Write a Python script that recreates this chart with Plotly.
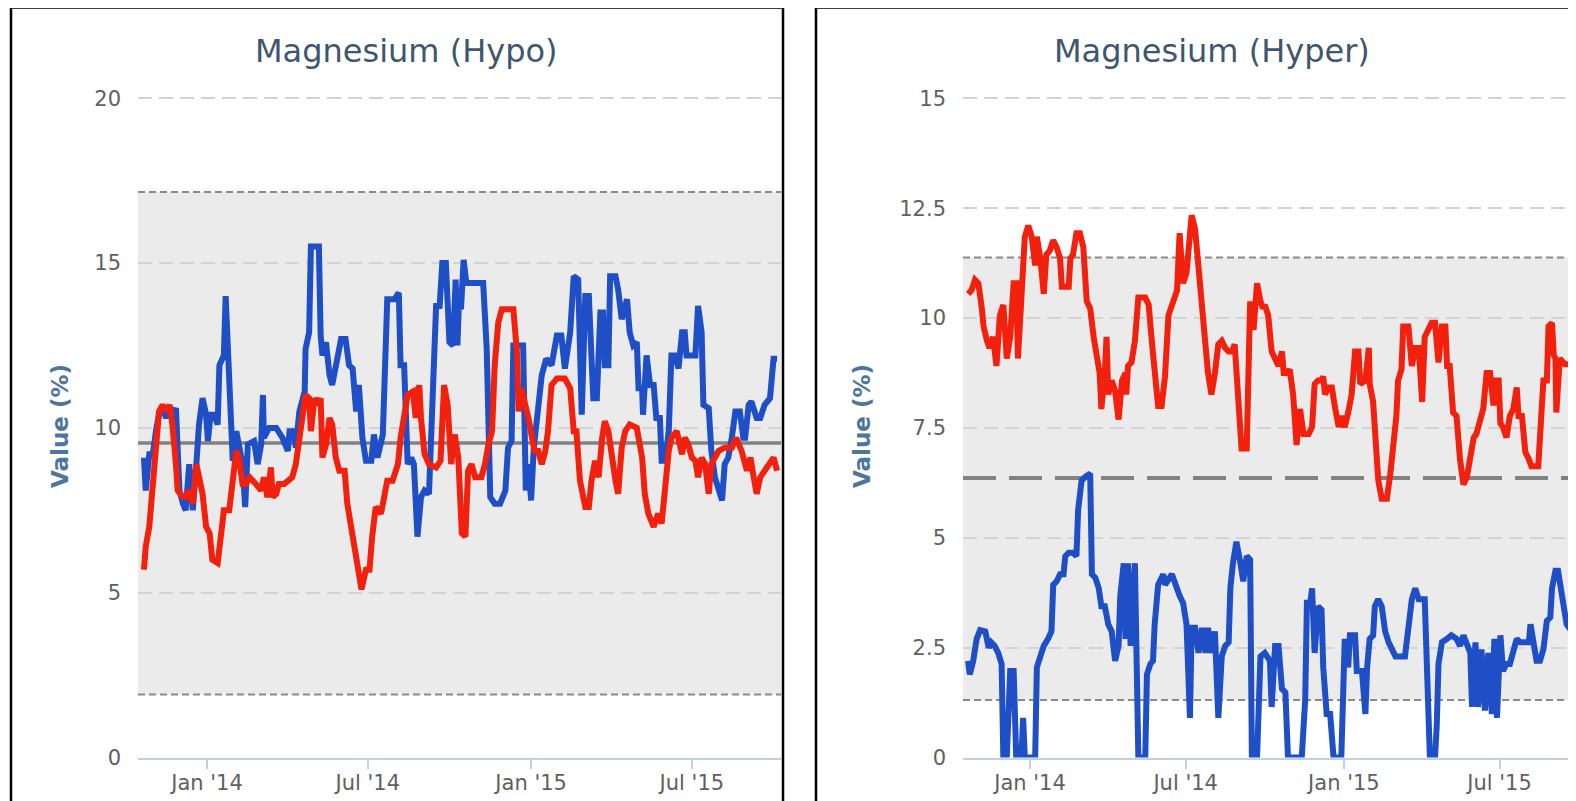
import pandas as pd
import plotly.graph_objects as go

# ---------------- data (day offsets from 2014-01-01, value %) ----------------
BASE = "2014-01-01"

hypo_blue = [(-71,9.1),(-69,8.1),(-65,9.2),(-61,9.2),(-57,10.0),(-54,10.4),(-50,10.6),(-46,10.3),(-42,10.6),(-39,10.4),(-35,10.6),(-31,8.1),(-27,7.7),(-24,7.5),(-20,8.9),(-16,7.5),(-12,8.9),(-9,10.1),(-5,10.9),(-1,10.4),(1,9.6),(4,10.4),(8,10.4),(12,10.1),(14,11.9),(19,12.2),(21,14.0),(23,12.5),(27,10.4),(29,9.0),(33,9.9),(36,9.5),(40,8.9),(43,7.6),(46,9.5),(53,9.6),(57,8.9),(61,9.5),(63,11.0),(64,9.7),(70,10.0),(78,10.0),(85,9.7),(91,9.3),(93,9.9),(98,9.9),(100,9.4),(104,10.5),(110,11.1),(111,12.4),(115,12.9),(117,15.5),(126,15.5),(128,12.8),(130,12.2),(134,12.6),(138,11.6),(141,11.3),(145,11.8),(151,12.7),(156,12.7),(160,11.9),(164,11.8),(168,10.5),(171,11.3),(175,9.7),(179,9.0),(185,9.0),(188,9.8),(192,9.1),(198,9.8),(201,11.8),(203,13.9),(211,13.9),(216,14.1),(218,11.9),(222,11.9),(226,8.9),(230,9.1),(233,8.9),(237,6.7),(241,7.9),(245,8.1),(250,8.0),(254,10.5),(258,13.7),(262,13.7),(265,15.0),(269,15.0),(273,12.6),(277,12.5),(280,14.5),(282,12.5),(284,14.0),(286,13.6),(289,15.1),(292,14.4),(311,14.4),(315,12.4),(317,9.9),(319,7.9),(324,7.7),(330,7.7),(336,8.1),(339,9.4),(343,9.6),(345,12.5),(356,12.5),(359,8.1),(362,8.9),(365,7.8),(368,9.4),(371,10.1),(377,11.6),(382,12.1),(388,11.9),(394,12.8),(399,12.8),(403,11.8),(409,12.9),(413,14.6),(418,14.5),(422,10.4),(426,14.0),(430,14.0),(431,13.2),(435,10.9),(439,10.9),(443,13.5),(446,13.5),(448,11.9),(452,11.9),(454,14.6),(460,14.6),(463,14.2),(467,13.3),(473,13.9),(476,12.9),(480,12.5),(484,12.6),(486,11.2),(490,11.2),(491,10.4),(495,12.2),(499,11.3),(503,11.3),(506,10.3),(510,10.3),(512,9.0),(516,9.0),(520,9.9),(523,12.2),(527,12.2),(531,11.8),(535,12.9),(538,12.9),(540,12.2),(550,12.2),(553,13.7),(557,12.9),(559,10.7),(565,10.6),(568,9.3),(572,8.5),(576,8.1),(580,7.8),(583,8.9),(587,9.1),(591,9.7),(595,10.5),(600,10.5),(604,9.7),(606,9.7),(610,10.7),(613,10.8),(619,10.3),(623,10.3),(628,10.7),(634,10.9),(638,12.1),(642,12.1)]

hypo_red = [(-71,5.7),(-69,6.4),(-65,7.0),(-61,8.2),(-57,9.7),(-54,10.5),(-50,10.7),(-46,10.5),(-42,10.7),(-39,10.1),(-35,8.9),(-33,8.1),(-27,7.9),(-24,7.9),(-20,8.1),(-16,7.7),(-12,8.9),(-9,8.5),(-5,8.0),(-1,7.0),(3,6.8),(6,6.0),(12,5.9),(16,6.8),(19,7.5),(25,7.5),(29,8.6),(33,9.3),(36,9.1),(40,8.3),(44,8.3),(48,8.5),(55,8.3),(61,8.1),(64,8.5),(68,7.9),(72,8.8),(74,7.9),(78,8.0),(81,8.3),(87,8.3),(91,8.4),(96,8.5),(100,8.9),(104,9.7),(108,10.5),(111,11.0),(115,10.9),(117,9.9),(121,10.9),(125,10.7),(128,10.9),(130,9.1),(134,9.5),(138,10.3),(141,10.1),(145,9.1),(149,8.7),(155,8.7),(158,7.7),(162,7.0),(168,6.0),(171,5.6),(174,5.1),(179,5.7),(183,5.7),(186,6.7),(190,7.6),(196,7.4),(200,8.1),(203,8.4),(209,8.4),(215,8.9),(218,9.7),(222,10.3),(226,11.0),(232,11.1),(235,10.3),(239,11.3),(241,10.3),(245,9.2),(250,8.9),(258,8.8),(263,9.0),(267,11.3),(271,10.7),(275,8.9),(279,9.8),(283,9.1),(287,6.8),(291,6.7),(294,8.7),(298,8.9),(302,8.5),(309,8.5),(313,8.9),(317,9.5),(321,9.9),(324,11.9),(328,13.2),(332,13.6),(345,13.6),(349,12.3),(351,10.5),(354,11.2),(358,10.8),(362,10.3),(366,9.7),(369,9.3),(373,9.3),(377,8.9),(381,9.3),(384,9.9),(388,11.3),(394,11.5),(403,11.5),(409,11.2),(413,9.9),(416,9.9),(420,8.4),(426,7.6),(430,7.6),(433,8.4),(437,9.0),(441,8.5),(445,9.7),(448,10.2),(452,9.9),(456,9.0),(460,8.4),(463,8.0),(467,9.4),(471,9.9),(476,10.1),(484,10.0),(490,9.1),(493,8.0),(497,7.4),(503,7.0),(508,7.4),(512,7.1),(516,8.3),(520,9.3),(523,9.7),(529,9.9),(535,9.2),(538,9.7),(542,9.5),(546,9.1),(550,9.0),(553,8.5),(557,9.1),(561,8.9),(565,8.0),(568,8.9),(572,9.1),(576,9.3),(583,9.4),(591,9.4),(596,9.7),(602,9.3),(608,8.7),(612,9.1),(615,8.6),(619,8.0),(623,8.5),(628,8.7),(634,8.9),(638,9.1),(642,8.7)]

hyper_red = [(-72,10.55),(-68,10.63),(-64,10.87),(-60,10.79),(-56,10.22),(-54,9.81),(-50,9.48),(-47,9.32),(-43,9.57),(-39,8.91),(-35,10.06),(-31,10.3),(-27,9.08),(-23,9.57),(-19,10.79),(-16,10.79),(-14,9.08),(-10,10.22),(-8,10.87),(-6,11.85),(-2,12.1),(2,11.85),(6,11.2),(8,11.85),(12,11.36),(16,10.55),(19,11.44),(23,11.53),(27,11.77),(31,11.61),(35,11.36),(37,10.71),(45,10.71),(47,11.36),(50,11.44),(54,11.93),(58,11.93),(62,11.61),(66,10.38),(70,10.22),(74,9.57),(78,8.99),(81,8.75),(83,7.93),(87,8.75),(89,9.57),(91,8.26),(95,8.58),(99,8.34),(103,7.69),(107,8.58),(111,8.75),(112,8.26),(114,8.91),(118,8.99),(122,9.48),(126,10.47),(134,10.47),(138,10.3),(142,9.4),(145,8.91),(149,8.0),(153,8.0),(157,8.67),(161,10.06),(167,10.47),(171,10.63),(174,11.93),(178,10.79),(182,11.03),(186,12.02),(188,12.34),(192,12.02),(196,11.03),(200,9.97),(204,9.4),(207,8.75),(211,8.26),(215,8.75),(219,9.4),(223,9.48),(227,9.32),(231,9.24),(235,9.24),(238,9.4),(242,8.26),(246,7.03),(252,7.03),(256,10.38),(260,9.73),(264,10.79),(268,10.38),(271,10.22),(273,10.3),(277,10.06),(281,9.24),(285,9.08),(289,8.91),(293,9.24),(295,8.75),(299,8.75),(302,8.83),(306,8.26),(308,7.85),(310,7.11),(312,7.6),(314,7.93),(318,7.36),(324,7.36),(328,7.52),(331,8.5),(335,8.58),(339,8.58),(341,8.67),(343,8.26),(347,8.42),(351,8.42),(355,7.93),(359,7.52),(362,7.77),(366,7.52),(370,7.85),(374,8.26),(378,9.24),(382,9.24),(384,8.5),(390,8.58),(394,9.32),(395,8.5),(399,8.09),(401,7.36),(405,6.3),(409,5.89),(415,5.89),(419,6.46),(423,7.2),(426,7.77),(428,8.58),(432,8.83),(434,9.81),(440,9.81),(444,8.91),(448,9.32),(452,9.32),(456,8.09),(459,9.57),(463,9.73),(467,9.89),(471,9.89),(475,8.99),(479,9.81),(483,9.81),(485,8.91),(488,8.91),(492,7.85),(496,7.77),(500,6.79),(504,6.21),(508,6.38),(512,6.95),(516,7.28),(519,7.36),(523,7.6),(527,7.93),(531,8.75),(535,8.75),(539,8.01),(541,8.58),(545,8.58),(547,7.6),(550,7.52),(554,7.28),(558,7.77),(562,7.93),(566,8.42),(568,7.77),(572,7.77),(576,6.95),(580,6.79),(583,6.63),(591,6.63),(593,7.2),(597,8.58),(601,8.58),(603,9.81),(607,9.89),(609,9.16),(611,9.08),(612,7.85),(616,9.08),(622,8.95),(635,8.95)]

hyper_blue = [(-72,2.2),(-70,1.89),(-66,2.2),(-62,2.7),(-58,2.9),(-52,2.87),(-48,2.5),(-45,2.62),(-41,2.54),(-37,2.38),(-33,2.13),(-31,0),(-27,0),(-23,1.97),(-19,1.97),(-16,0),(-10,0),(-8,0.9),(-6,0),(6,0),(8,2.05),(12,2.3),(16,2.54),(21,2.7),(25,2.87),(27,3.93),(31,4.01),(35,4.17),(39,4.17),(41,4.58),(45,4.66),(50,4.66),(54,4.58),(56,5.64),(60,6.3),(64,6.38),(70,6.46),(72,4.17),(76,4.09),(80,3.85),(83,3.44),(87,3.44),(91,3.03),(95,2.87),(99,2.2),(103,2.54),(105,3.68),(109,4.42),(111,2.7),(114,4.42),(117,2.54),(122,4.42),(124,2.46),(126,0),(134,0),(136,1.89),(140,2.13),(143,2.2),(145,3.03),(149,3.93),(155,4.17),(157,3.93),(165,4.17),(169,3.93),(174,3.68),(178,3.52),(182,3.03),(186,0.9),(188,2.95),(192,2.95),(196,2.38),(200,2.95),(204,2.38),(207,2.95),(211,2.38),(215,2.87),(219,0.9),(223,2.3),(227,2.54),(231,2.62),(233,3.85),(236,4.42),(240,4.91),(244,4.5),(248,4.01),(252,4.58),(256,4.5),(258,0),(264,0),(268,2.3),(273,2.38),(279,2.2),(281,1.15),(285,2.54),(289,2.54),(293,1.56),(297,1.48),(300,0),(316,0),(320,1.31),(322,3.52),(326,3.52),(328,3.85),(331,2.38),(335,3.44),(339,3.36),(341,2.05),(345,0.99),(349,0.99),(353,0),(362,0),(366,2.7),(370,2.05),(372,2.78),(378,2.78),(380,1.97),(386,1.97),(390,0.99),(392,2.05),(395,2.7),(399,2.78),(401,3.44),(405,3.6),(409,3.44),(413,2.87),(417,2.62),(421,2.46),(425,2.3),(436,2.3),(440,2.87),(444,3.6),(448,3.85),(452,3.6),(459,3.6),(461,2.05),(465,0),(471,0),(473,0.74),(475,2.13),(479,2.62),(485,2.7),(490,2.78),(496,2.7),(500,2.54),(504,2.78),(508,2.54),(512,2.38),(514,1.15),(518,2.62),(521,1.15),(525,2.46),(529,1.07),(533,2.38),(537,0.99),(540,2.7),(543,0.9),(547,2.78),(550,1.97),(554,2.13),(558,2.13),(562,2.38),(566,2.7),(570,2.62),(574,2.62),(580,2.62),(582,3.03),(585,2.62),(589,2.2),(593,2.2),(597,2.46),(601,3.11),(605,3.19),(607,3.85),(611,4.25),(614,4.25),(618,3.68),(624,3.03),(630,2.87),(635,2.7)]

# reference lines / bands (value %)
hypo_band = (1.91, 17.16)
hypo_mean = 9.54
hyper_band = (1.31, 11.38)
hyper_mean = 6.36

# axis extents
hypo_xrange = (-77.7, 646.4)      # day offsets
hyper_xrange = (-77.9, 634.9)
hypo_ymax, hypo_dtick = 20, 5
hyper_ymax, hyper_dtick = 15, 2.5

tick_dates = ["2014-01-01", "2014-07-01", "2015-01-01", "2015-07-01"]
tick_labels = ["Jan '14", "Jul '14", "Jan '15", "Jul '15"]
titles = ["Magnesium (Hypo)", "Magnesium (Hyper)"]

# ---------------- helpers ----------------
base = pd.Timestamp(BASE)
def day(x):
    return base + pd.Timedelta(minutes=round(x * 1440))

def to_xy(pairs):
    d, v = zip(*pairs)
    return [day(x) for x in d], list(v)

OFF = 8                     # default page body margin
W, H = 1576 - OFF, 801 - OFF
def px(x):
    return (x - OFF) / W
def py(y):
    return 1 - (y - OFF) / H

BLUE = "#1E4FC6"
RED = "#F2200C"
LW = 6

# plot area: value 0 at page y=757.5, top tick at page y=98.3; a few px of headroom
Y0, YTOP, HEAD = 757.5, 98.3, 4

def yaxis_setup(ymax):
    ppu = (Y0 - YTOP) / ymax
    extra = HEAD / ppu
    return [py(Y0), py(YTOP - HEAD)], [0, ymax + extra]

fig = go.Figure()

# reference lines (band edges + mean) drawn under the series
for xa, ya, band, mean, mean_dash, xr in [
    ("x", "y", hypo_band, hypo_mean, "solid", hypo_xrange),
    ("x2", "y2", hyper_band, hyper_mean, "33px,13px", hyper_xrange),
]:
    xs = [day(xr[0]), day(xr[1])]
    for b in band:
        fig.add_trace(go.Scatter(x=xs, y=[b, b], mode="lines", xaxis=xa, yaxis=ya,
                                 line=dict(color="#8A8A8A", width=2, dash="7px,4px"),
                                 hoverinfo="skip", showlegend=False))
    fig.add_trace(go.Scatter(x=xs, y=[mean, mean], mode="lines", xaxis=xa, yaxis=ya,
                             line=dict(color="#828282", width=4 if mean_dash != "solid" else 3.5,
                                       dash=mean_dash),
                             hoverinfo="skip", showlegend=False))

for (pairs, col, xa, ya) in [
    (hypo_blue, BLUE, "x", "y"), (hypo_red, RED, "x", "y"),
    (hyper_red, RED, "x2", "y2"), (hyper_blue, BLUE, "x2", "y2"),
]:
    xs, ys = to_xy(pairs)
    fig.add_trace(go.Scatter(x=xs, y=ys, mode="lines", xaxis=xa, yaxis=ya,
                             line=dict(color=col, width=LW), hoverinfo="skip",
                             showlegend=False))

grid = dict(showgrid=True, gridcolor="#D3D3D3", gridwidth=2, griddash="14px,7px",
            zeroline=False, showline=False, ticks="", automargin=False,
            tickfont=dict(family="DejaVu Sans", size=21, color="#606060"),
            ticklabelstandoff=16, fixedrange=True, tick0=0)
xcommon = dict(showgrid=False, zeroline=False, showline=True, linecolor="#C0D0E0",
               linewidth=2, ticks="outside", ticklen=9, tickcolor="#C0D0E0",
               tickwidth=2, tickvals=[pd.Timestamp(t) for t in tick_dates],
               ticktext=tick_labels, ticklabelstandoff=-4, automargin=False,
               tickfont=dict(family="DejaVu Sans", size=21, color="#606060"))

dom1, rng1 = yaxis_setup(hypo_ymax)
dom2, rng2 = yaxis_setup(hyper_ymax)

fig.update_layout(
    width=W, height=H, autosize=False,
    margin=dict(l=0, r=0, t=0, b=0, pad=0),
    paper_bgcolor="white", plot_bgcolor="white",
    xaxis=dict(domain=[px(138), px(781)], range=[day(hypo_xrange[0]), day(hypo_xrange[1])],
               anchor="y", **xcommon),
    yaxis=dict(domain=dom1, range=rng1, dtick=hypo_dtick, anchor="x", **grid),
    xaxis2=dict(domain=[px(963), 1.0], range=[day(hyper_xrange[0]), day(hyper_xrange[1])],
                anchor="y2", **xcommon),
    yaxis2=dict(domain=dom2, range=rng2, dtick=hyper_dtick, anchor="x2", **grid),
)

shapes = []
for xr, yr, band in [("x", "y", hypo_band), ("x2", "y2", hyper_band)]:
    shapes.append(dict(type="rect", xref=f"{xr} domain", yref=yr, x0=0, x1=1,
                       y0=band[0], y1=band[1], fillcolor="#EBEBEB",
                       line=dict(width=0), layer="below"))

# panel borders
for x0, x1 in [(11, 783), (816, 1640)]:
    shapes.append(dict(type="rect", xref="paper", yref="paper",
                       x0=px(x0), x1=px(x1), y0=-0.1, y1=py(7.5),
                       line=dict(color="black", width=2.5), fillcolor="rgba(0,0,0,0)",
                       layer="above"))
fig.update_layout(shapes=shapes)

annotations = []
for t, cx in zip(titles, [406.5, 1211.5]):
    annotations.append(dict(text=t, x=px(cx), y=py(51), xref="paper", yref="paper",
                            xanchor="center", yanchor="middle", showarrow=False,
                            font=dict(family="DejaVu Sans", size=32, color="#3E576F")))
for cx in [60, 862]:
    annotations.append(dict(text="<b>Value (%)</b>", x=px(cx), y=py(426),
                            xref="paper", yref="paper", textangle=-90,
                            xanchor="center", yanchor="middle", showarrow=False,
                            font=dict(family="DejaVu Sans", size=23, color="#4D759E")))
fig.update_layout(annotations=annotations)

fig.write_html("out.html")
